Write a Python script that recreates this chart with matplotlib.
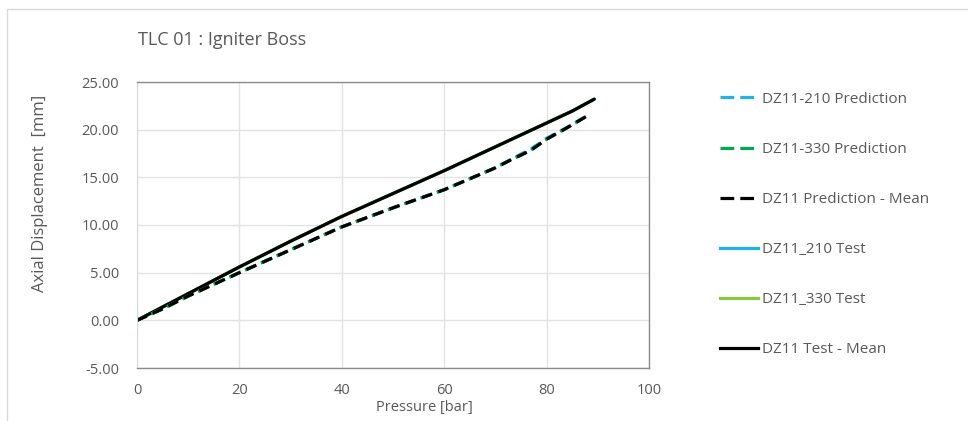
import matplotlib
matplotlib.use("Agg")
import matplotlib.pyplot as plt
from matplotlib.patches import Rectangle
from matplotlib.lines import Line2D

# Data
pressure_pred = [0, 5, 10, 20, 30, 40, 50, 60, 70, 72.9, 76.8, 78.7, 80, 84, 88.1]
disp_pred_210 = [0, 1.2, 2.55, 5.0, 7.4, 9.8, 11.8, 13.7, 16.0, 16.85, 17.95, 18.6, 19.1, 20.25, 21.5]
disp_pred_330 = [0, 1.2, 2.55, 5.0, 7.4, 9.8, 11.8, 13.7, 16.0, 16.8, 17.8, 18.5, 19.0, 20.2, 21.5]
disp_pred_mean = [0, 1.2, 2.55, 5.0, 7.4, 9.8, 11.8, 13.7, 16.0, 16.8, 17.8, 18.5, 19.0, 20.2, 21.5]

pressure_test = [0, 10, 20, 30, 40, 50, 60, 70, 80, 85, 89.3]
disp_test_210 = [0, 2.8, 5.6, 8.3, 10.9, 13.3, 15.7, 18.2, 20.7, 21.95, 23.2]
disp_test_330 = [0, 2.8, 5.6, 8.3, 10.9, 13.3, 15.7, 18.2, 20.7, 21.95, 23.2]
disp_test_mean = [0, 2.8, 5.6, 8.3, 10.9, 13.3, 15.7, 18.2, 20.7, 21.95, 23.2]

x_ticks = [0, 20, 40, 60, 80, 100]
y_ticks = [-5, 0, 5, 10, 15, 20, 25]

title = "TLC 01 : Igniter Boss"
x_label = "Pressure [bar]"
y_label = "Axial Displacement  [mm]"
labels = ["DZ11-210 Prediction", "DZ11-330 Prediction", "DZ11 Prediction - Mean",
          "DZ11_210 Test", "DZ11_330 Test", "DZ11 Test - Mean"]

plt.rcParams['font.family'] = ['Open Sans', 'DejaVu Sans']
text_col = "#595959"

W, H = 968, 421
fig = plt.figure(figsize=(W / 100, H / 100), dpi=100)
fig.patch.set_facecolor("white")

# chart frame
fig.add_artist(Rectangle((7 / W, -0.1), 1.2, 1 - 9 / H + 0.1, transform=fig.transFigure,
                         fill=False, edgecolor="#d9d9d9", linewidth=1.0))

left, right, top, bottom = 137, 649, 82, 368
ax = fig.add_axes([left / W, 1 - bottom / H, (right - left) / W, (bottom - top) / H])

lw = 2.3
dpat = (3.4, 2.0)
ax.plot(pressure_test, disp_test_210, color="#1fb3e8", lw=lw, solid_capstyle="round")
ax.plot(pressure_test, disp_test_330, color="#8cc63f", lw=lw, solid_capstyle="round")
ax.plot(pressure_test, disp_test_mean, color="black", lw=lw, solid_capstyle="round")
ax.plot(pressure_pred, disp_pred_210, color="#1fb3e8", lw=lw, linestyle=(0.3, dpat))
ax.plot(pressure_pred, disp_pred_330, color="#00a850", lw=lw, linestyle=(0.5, dpat))
ax.plot(pressure_pred, disp_pred_mean, color="black", lw=lw, linestyle=(0, dpat))

ax.set_xlim(0, 100)
ax.set_ylim(-5, 25)
ax.set_xticks(x_ticks)
ax.set_yticks(y_ticks)
ax.set_yticklabels([f"{v:.2f}" for v in y_ticks])
ax.grid(True, color="#e3e3e3", linewidth=1.0)
ax.set_axisbelow(True)
ax.tick_params(length=0, labelsize=10.5, colors=text_col)
ax.tick_params(axis="x", pad=11)
ax.tick_params(axis="y", pad=13)
for s in ["top", "right", "bottom"]:
    ax.spines[s].set_color("#8c8c8c")
    ax.spines[s].set_linewidth(1.0)
ax.spines["left"].set_color("#d9d9d9")

fig.text(424 / W, 1 - 408 / H, x_label, fontsize=10.5, color=text_col, ha="center", va="center")
fig.text(40 / W, 1 - 193 / H, y_label, fontsize=12, color=text_col, ha="center", va="center",
         rotation=90)

fig.text(138 / W, 1 - 40 / H, title, fontsize=13, color=text_col, va="center", ha="left")

# legend
lpat = (0, (4.3, 1.9))
handles = [
    Line2D([], [], color="#1fb3e8", lw=lw, linestyle=lpat),
    Line2D([], [], color="#00a850", lw=lw, linestyle=lpat),
    Line2D([], [], color="black", lw=lw, linestyle=lpat),
    Line2D([], [], color="#1fb3e8", lw=lw),
    Line2D([], [], color="#8cc63f", lw=lw),
    Line2D([], [], color="black", lw=lw),
]
leg = fig.legend(handles, labels, loc="upper left", bbox_to_anchor=(706 / W, 1 - 78 / H),
                 frameon=False, fontsize=11, labelcolor=text_col, handlelength=2.5,
                 handletextpad=0.25, labelspacing=2.3)

fig.savefig("out.png", dpi=100)
